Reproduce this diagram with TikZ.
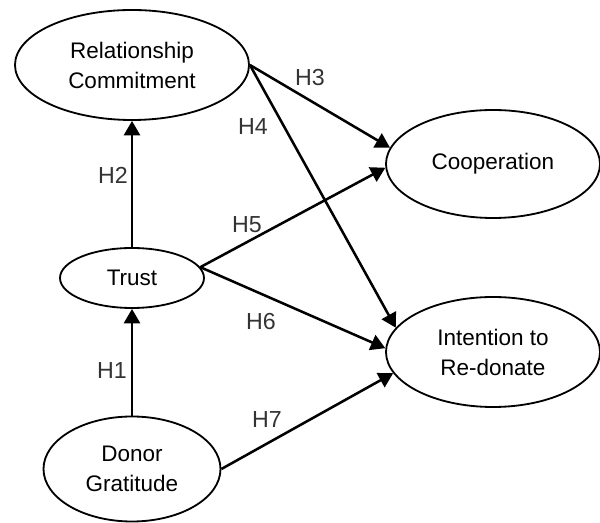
\documentclass[tikz,border=0pt]{standalone}
\usepackage{fontspec}
\setmainfont{Liberation Sans}
\usetikzlibrary{shapes.geometric,arrows.meta}

\tikzset{
  construct/.style={ellipse, draw=black, line width=1.3pt, inner sep=0pt, align=center,
    font=\fontsize{16}{21.3}\selectfont},
  hyp/.style={line width=1.8pt, -{Triangle[length=0.36cm,width=0.4cm]}},
  hlabel/.style={text=black!80, font=\fontsize{16.5}{18}\selectfont}
}

\begin{document}
\begin{tikzpicture}
\useasboundingbox (0,0) rectangle (15,13.075);

\node[construct, minimum width=5.85cm, minimum height=2.75cm] (rc) at (3.3,11.45) {Relationship\\Commitment};
\node[construct, minimum width=3.6cm, minimum height=1.5cm] (trust) at (3.3,6.125) {Trust};
\node[construct, minimum width=4.425cm, minimum height=2.625cm] (donor) at (3.3,1.35) {Donor\\Gratitude};
\node[construct, minimum width=5.35cm, minimum height=2.7cm] (coop) at (12.325,8.975) {Cooperation};
\node[construct, minimum width=5.35cm, minimum height=2.75cm] (intent) at (12.325,4.275) {Intention to\\Re-donate};

% hypotheses
\draw[hyp] (donor.north) -- (trust.south);
\draw[hyp] (trust.north) -- (rc.south);
\draw[hyp] (rc.east) -- (coop.171);
\draw[hyp] (rc.east) -- (intent.166);
\draw[hyp] (trust.9) -- (coop.182);
\draw[hyp] (trust.9) -- (intent.178);
\draw[hyp] (donor.east) -- (intent.192);

\node[hlabel] (h1) at (2.8,3.8) {H1};
\node[hlabel] (h2) at (2.825,8.7) {H2};
\node[hlabel] (h3) at (7.75,11.125) {H3};
\node[hlabel] (h4) at (6.325,9.9) {H4};
\node[hlabel] (h5) at (6.175,7.45) {H5};
\node[hlabel] (h6) at (6.525,5.025) {H6};
\node[hlabel] (h7) at (6.675,2.575) {H7};
\end{tikzpicture}
\end{document}
